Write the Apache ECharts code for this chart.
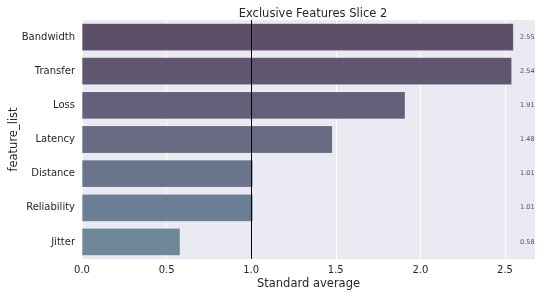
<!DOCTYPE html>
<html><head><meta charset="utf-8">
<script src="https://cdn.jsdelivr.net/npm/echarts@6/dist/echarts.min.js"></script>
<style>html,body{margin:0;padding:0;background:#fff}#c{width:550px;height:294px}</style>
</head><body><div id="c"></div>
<script>
const categories = ["Bandwidth","Transfer","Loss","Latency","Distance","Reliability","Jitter"];
const values = [2.55, 2.54, 1.91, 1.48, 1.01, 1.01, 0.58];
const barColors = ["#5c5068","#5f5770","#655f7a","#676b84","#6a758d","#6c7e93","#6f8899"];
const xTicks = [0, 0.5, 1.0, 1.5, 2.0, 2.5];
const refLine = 1.0;
const labelX = 2.675;

const chart = echarts.init(document.getElementById('c'), null, {renderer:'canvas'});
chart.setOption({
  animation:false,
  backgroundColor:'#ffffff',
  title:{text:'Exclusive Features Slice 2', left:308, top:3, textAlign:'center',
    textStyle:{fontFamily:'DejaVu Sans', fontSize:11.5, fontWeight:'normal', color:'#262626'}},
  grid:{left:82, right:15, top:20, bottom:35, show:true, backgroundColor:'#eaeaf2', borderWidth:0,
    containLabel:false, outerBoundsMode:'none'},
  xAxis:{type:'value', min:0, max:2.6775, interval:0.5,
    name:'Standard average', nameLocation:'middle', nameGap:19, nameMoveOverlap:false,
    nameTextStyle:{fontFamily:'DejaVu Sans', fontSize:11.5, color:'#262626'},
    axisLine:{show:false}, axisTick:{show:false},
    axisLabel:{fontFamily:'DejaVu Sans', fontSize:10, color:'#262626', margin:6,
      formatter:v=> xTicks.includes(v) ? v.toFixed(1) : ''},
    splitLine:{show:true, lineStyle:{color:'#ffffff', width:1}}},
  yAxis:{type:'category', data:categories, inverse:true,
    name:'feature_list', nameLocation:'middle', nameGap:62, nameRotate:90, nameMoveOverlap:false,
    nameTextStyle:{fontFamily:'DejaVu Sans', fontSize:11.5, color:'#262626'},
    axisLine:{show:false}, axisTick:{show:false},
    axisLabel:{fontFamily:'DejaVu Sans', fontSize:10, color:'#262626', margin:7},
    splitLine:{show:false}},
  series:[{
    type:'bar', barWidth:'80%', barCategoryGap:'20%',
    data: values.map((v,i)=>({value:v, itemStyle:{color:barColors[i]}})),
    itemStyle:{borderColor:'rgba(255,255,255,0.25)', borderWidth:0.5},
    markLine:{silent:true, symbol:'none', label:{show:false},
      lineStyle:{color:'#000000', width:1, type:'solid'}, data:[{xAxis:refLine}], z:10}
  },{
    type:'scatter', symbolSize:0,
    data: values.map((v,i)=>[labelX, categories[i]]),
    label:{show:true, position:'left', distance:0,
      formatter:p=>values[p.dataIndex].toFixed(2),
      fontFamily:'DejaVu Sans', fontSize:6.5, color:'#262626'}
  }]
});
</script></body></html>
